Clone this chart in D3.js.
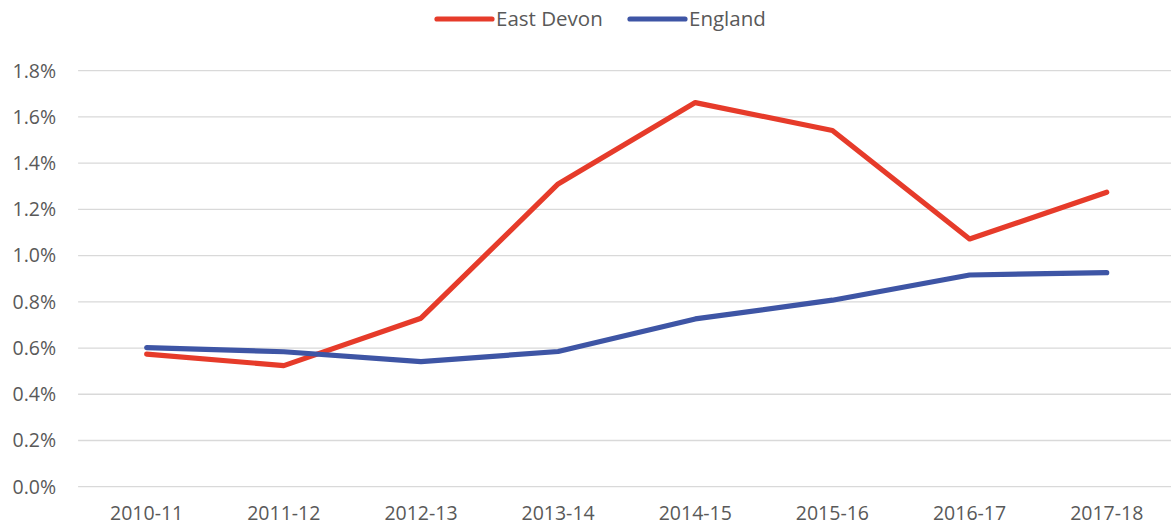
<!DOCTYPE html>
<html>
<head>
<meta charset="utf-8">
<script src="https://cdn.jsdelivr.net/npm/d3@7"></script>
<style>
  body { margin: 0; background: #fff; }
  svg text { font-family: "Open Sans", "Noto Sans", sans-serif; fill: #595959; }
</style>
</head>
<body>
<div id="chart"></div>
<script>
const years = ["2010-11", "2011-12", "2012-13", "2013-14", "2014-15", "2015-16", "2016-17", "2017-18"];
const eastDevon = [0.574, 0.524, 0.729, 1.31, 1.662, 1.541, 1.072, 1.274];
const england = [0.602, 0.584, 0.541, 0.585, 0.726, 0.807, 0.916, 0.926];
const yTicks = [0, 0.2, 0.4, 0.6, 0.8, 1.0, 1.2, 1.4, 1.6, 1.8];

const series = [
    { name: "East Devon", values: eastDevon, color: "#E63B2A" },
    { name: "England", values: england, color: "#3E55A5" }
];

const width = 1171, height = 530;
const margin = { top: 70.7, right: -4.3, bottom: 43.3, left: 78.1 };
const innerW = width - margin.left - margin.right;
const innerH = height - margin.top - margin.bottom;

const svg = d3.select("#chart").append("svg")
    .attr("width", width)
    .attr("height", height);

const g = svg.append("g")
    .attr("transform", `translate(${margin.left},${margin.top})`);

const x = d3.scaleBand().domain(years).range([0, innerW]);
const y = d3.scaleLinear().domain([0, 1.8]).range([innerH, 0]);

// gridlines
g.selectAll(".grid")
    .data(yTicks)
    .enter()
    .append("line")
    .attr("x1", 0)
    .attr("x2", innerW)
    .attr("y1", d => y(d))
    .attr("y2", d => y(d))
    .attr("stroke", "#d9d9d9")
    .attr("stroke-width", 1.3);

// y labels
g.selectAll(".ylab")
    .data(yTicks)
    .enter()
    .append("text")
    .attr("x", -22)
    .attr("y", d => y(d))
    .attr("dy", "0.35em")
    .attr("text-anchor", "end")
    .style("font-size", "19.5px")
    .text(d => d.toFixed(1) + "%");

// x labels
g.selectAll(".xlab")
    .data(years)
    .enter()
    .append("text")
    .attr("x", d => x(d) + x.bandwidth() / 2)
    .attr("y", innerH + 33)
    .attr("text-anchor", "middle")
    .style("font-size", "19.5px")
    .text(d => d);

const line = d3.line()
    .x((d, i) => x(years[i]) + x.bandwidth() / 2)
    .y(d => y(d));

series.forEach(s => {
    g.append("path")
        .datum(s.values)
        .attr("fill", "none")
        .attr("stroke", s.color)
        .attr("stroke-width", 5.2)
        .attr("stroke-linejoin", "round")
        .attr("stroke-linecap", "round")
        .attr("d", line);
});

// legend
const legendPos = [437, 630];
series.forEach((s, i) => {
    const lg = svg.append("g").attr("transform", `translate(${legendPos[i]},19)`);
    lg.append("line")
        .attr("x1", 0).attr("x2", 55)
        .attr("y1", 0).attr("y2", 0)
        .attr("stroke", s.color)
        .attr("stroke-width", 5.2)
        .attr("stroke-linecap", "round");
    lg.append("text")
        .attr("x", 59)
        .attr("y", 0)
        .attr("dy", "0.35em")
        .style("font-size", "20.5px")
        .text(s.name);
});
</script>
</body>
</html>
